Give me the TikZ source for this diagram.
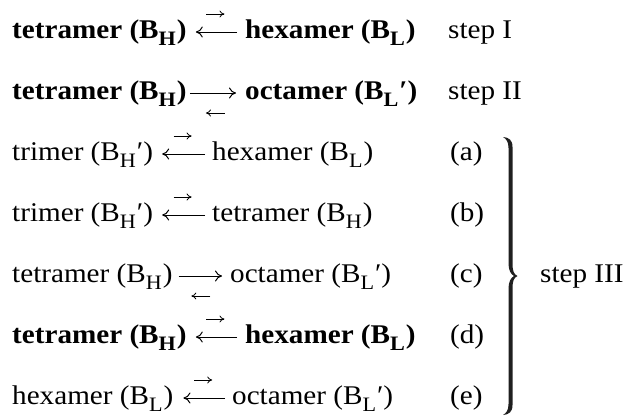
\documentclass[tikz,border=0pt]{standalone}
\usepackage{fontspec}
\setmainfont{Liberation Serif}[FakeStretch=1.08]
\usetikzlibrary{arrows.meta}
\newcommand\sbs[1]{\raisebox{-7pt}{\fontsize{20.5}{20}\selectfont #1}\kern1pt}
\newcommand\prm{′}
\begin{document}
\begin{tikzpicture}[x=1pt,y=-1pt,
  txt/.style={inner sep=0pt, anchor=base west, font=\fontsize{27}{32}\selectfont},
  bold/.style={inner sep=0pt, anchor=base west, font=\fontsize{27}{32}\selectfont\bfseries},
  bigarr/.style={line width=1pt, -{To[length=7pt,width=11pt]}},
  smallarr/.style={line width=0.8pt, -{To[length=5pt,width=7pt]}},
  bracefill/.style={fill=black!88, draw=none},
]
\useasboundingbox (0,0) rectangle (630,416);
% row 1
\node[bold] (l1) at (12,38) {tetramer (B\sbs{H})};
\node[bold] (r1) at (245,38) {hexamer (B\sbs{L})};
\node[txt] (s1) at (448,38) {step I};
\draw[bigarr] ([xshift=-8pt,yshift=6pt]r1.base west) -- coordinate[pos=.5] (m1) ([xshift=9pt,yshift=6pt]l1.base east);
\draw[smallarr] ([xshift=-10pt,yshift=18pt]m1) -- ([xshift=8pt,yshift=18pt]m1);
% row 2
\node[bold] (l2) at (12,99) {tetramer (B\sbs{H})};
\node[bold] (r2) at (245,99) {octamer (B\sbs{L}\prm)};
\node[txt] (s2) at (448,99) {step II};
\draw[bigarr] ([xshift=3pt,yshift=6pt]l2.base east) -- coordinate[pos=.5] (m2) ([xshift=-9pt,yshift=6pt]r2.base west);
\draw[smallarr] ([xshift=12pt,yshift=-20pt]m2) -- ([xshift=-7pt,yshift=-20pt]m2);
% row 3
\node[txt] (l3) at (12,160) {trimer (B\sbs{H}\prm)};
\node[txt] (r3) at (212,160) {hexamer (B\sbs{L})};
\node[txt] (a3) at (450,160) {(a)};
\draw[bigarr] ([xshift=-7pt,yshift=6pt]r3.base west) -- coordinate[pos=.5] (m3) ([xshift=9pt,yshift=6pt]l3.base east);
\draw[smallarr] ([xshift=-10pt,yshift=18pt]m3) -- ([xshift=8pt,yshift=18pt]m3);
% row 4
\node[txt] (l4) at (12,221) {trimer (B\sbs{H}\prm)};
\node[txt] (r4) at (212,221) {tetramer (B\sbs{H})};
\node[txt] (a4) at (450,221) {(b)};
\draw[bigarr] ([xshift=-7pt,yshift=6pt]r4.base west) -- coordinate[pos=.5] (m4) ([xshift=9pt,yshift=6pt]l4.base east);
\draw[smallarr] ([xshift=-10pt,yshift=18pt]m4) -- ([xshift=8pt,yshift=18pt]m4);
% row 5
\node[txt] (l5) at (12,282) {tetramer (B\sbs{H})};
\node[txt] (r5) at (230,282) {octamer (B\sbs{L}\prm)};
\node[txt] (a5) at (450,282) {(c)};
\draw[bigarr] ([xshift=6pt,yshift=6pt]l5.base east) -- coordinate[pos=.5] (m5) ([xshift=-8pt,yshift=6pt]r5.base west);
\draw[smallarr] ([xshift=10pt,yshift=-20pt]m5) -- ([xshift=-9pt,yshift=-20pt]m5);
% row 6
\node[bold] (l6) at (12,343) {tetramer (B\sbs{H})};
\node[bold] (r6) at (245,343) {hexamer (B\sbs{L})};
\node[txt] (a6) at (450,343) {(d)};
\draw[bigarr] ([xshift=-8pt,yshift=6pt]r6.base west) -- coordinate[pos=.5] (m6) ([xshift=9pt,yshift=6pt]l6.base east);
\draw[smallarr] ([xshift=-10pt,yshift=18pt]m6) -- ([xshift=8pt,yshift=18pt]m6);
% row 7
\node[txt] (l7) at (12,404) {hexamer (B\sbs{L})};
\node[txt] (r7) at (232,404) {octamer (B\sbs{L}\prm)};
\node[txt] (a7) at (450,404) {(e)};
\draw[bigarr] ([xshift=-7pt,yshift=6pt]r7.base west) -- coordinate[pos=.5] (m7) ([xshift=10pt,yshift=6pt]l7.base east);
\draw[smallarr] ([xshift=-10pt,yshift=18pt]m7) -- ([xshift=8pt,yshift=18pt]m7);
% brace
\fill[bracefill] (503,137) .. controls (509,137.5) and (512.5,140) .. (512.5,147)
  -- (512.5,264) .. controls (512.5,271) and (514,274.5) .. (517.5,276)
  .. controls (514,277.5) and (512.5,281) .. (512.5,288)
  -- (512.5,405) .. controls (512.5,412) and (509,414.5) .. (503,415)
  .. controls (506.5,413) and (508.5,410) .. (508.5,404)
  -- (508.5,289) .. controls (508.5,282) and (510.5,278) .. (514,276)
  .. controls (510.5,274) and (508.5,270) .. (508.5,263)
  -- (508.5,148) .. controls (508.5,142) and (506.5,139) .. (503,137) -- cycle;
\node[txt] (s3) at (540,282) {step III};
\end{tikzpicture}
\end{document}
